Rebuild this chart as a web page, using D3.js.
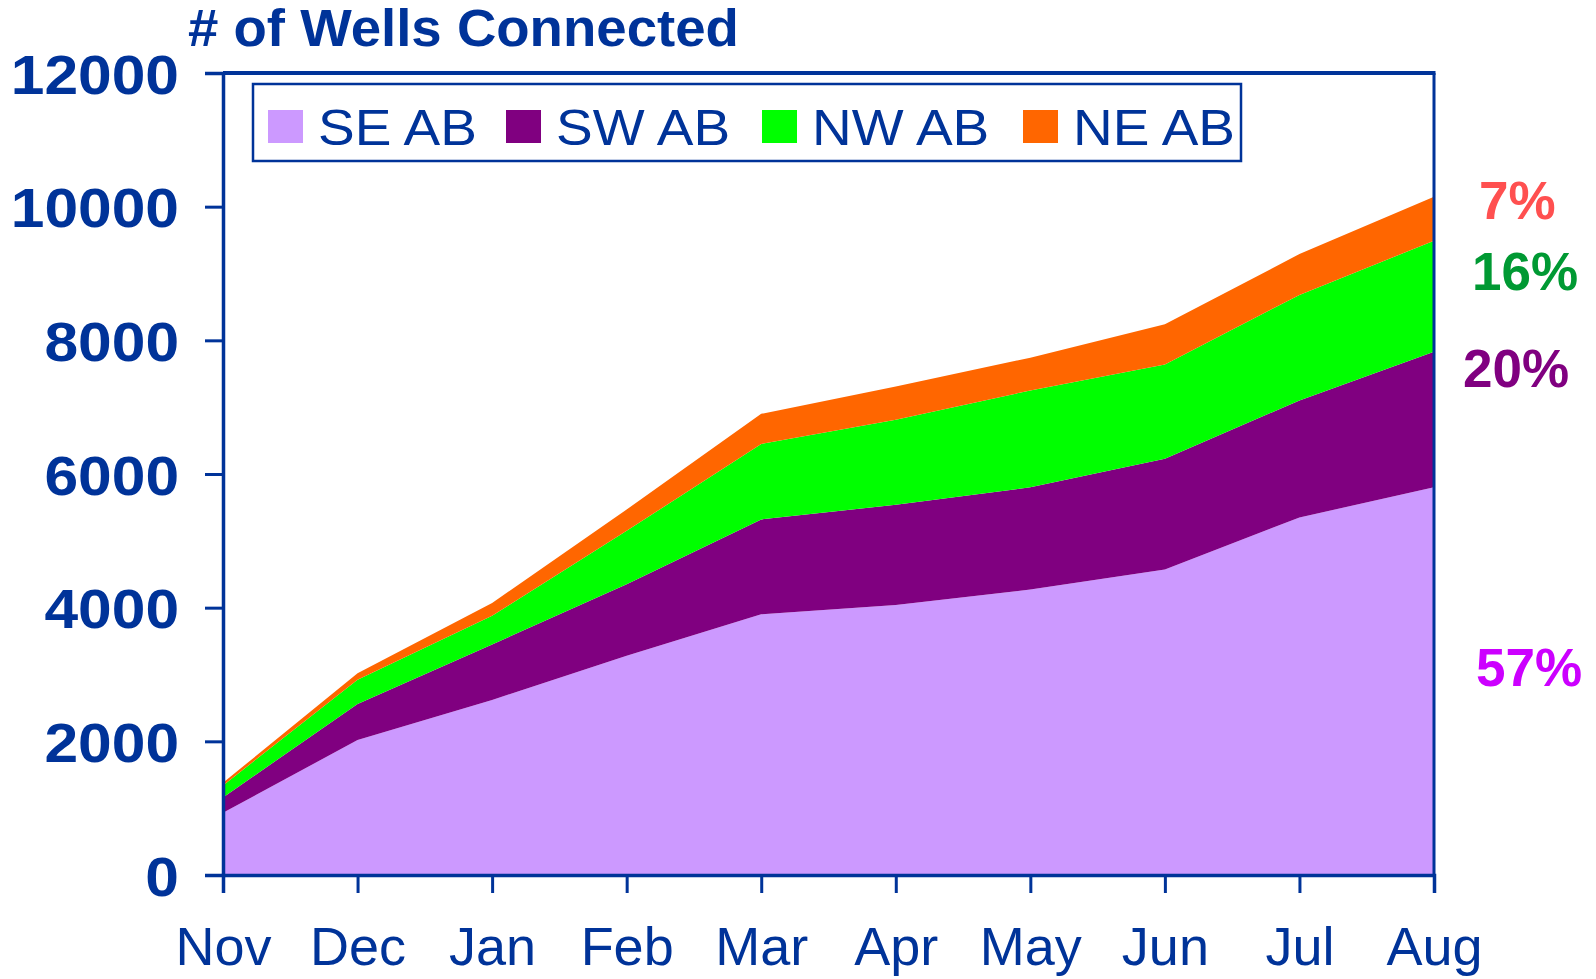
<!DOCTYPE html>
<html>
<head>
<meta charset="utf-8">
<script src="https://cdn.jsdelivr.net/npm/d3@7"></script>
<style>
  html, body { margin: 0; padding: 0; background: #fff; }
  svg { display: block; font-family: "Liberation Sans", Arial, sans-serif; }
</style>
</head>
<body>
<svg id="chart" width="1596" height="979"></svg>
<script>
// ---- data ----
const months = ["Nov", "Dec", "Jan", "Feb", "Mar", "Apr", "May", "Jun", "Jul", "Aug"];
const seAB = [930, 2020, 2620, 3280, 3900, 4040, 4270, 4570, 5350, 5800];
const swAB = [230, 540, 830, 1070, 1420, 1500, 1530, 1660, 1750, 2030];
const nwAB = [180, 360, 430, 800, 1130, 1270, 1450, 1410, 1580, 1660];
const neAB = [40, 100, 190, 320, 450, 500, 490, 600, 610, 660];
const seriesNames = ["SE AB", "SW AB", "NW AB", "NE AB"];
const yTickValues = [0, 2000, 4000, 6000, 8000, 10000, 12000];
const shareLabels = ["57%", "20%", "16%", "7%"];
const titleText = "# of Wells Connected";

// ---- style ----
const blue = "#003399";
const colors = ["#CC99FF", "#800080", "#00FF00", "#FF6600"];
const shareColors = ["#CC00FF", "#800080", "#009933", "#FF5050"];

const svg = d3.select("#chart");
const L = 223, R = 1434, T = 73, B = 875;

const x = d3.scalePoint().domain(months).range([L, R]);
const y = d3.scaleLinear().domain([0, 12000]).range([B, T]);

const rows = months.map((m, i) => ({
  month: m,
  "SE AB": seAB[i], "SW AB": swAB[i], "NW AB": nwAB[i], "NE AB": neAB[i]
}));
const stacked = d3.stack().keys(seriesNames)(rows);

const area = d3.area()
  .x(d => x(d.data.month))
  .y0(d => y(d[0]))
  .y1(d => y(d[1]));

svg.append("g").selectAll("path")
  .data(stacked)
  .join("path")
  .attr("d", area)
  .attr("fill", (d, i) => colors[i]);

// stretch helper
function stretch(sel, f) {
  sel.each(function () {
    const n = this.getComputedTextLength();
    d3.select(this).attr("textLength", n * f).attr("lengthAdjust", "spacingAndGlyphs");
  });
}

// frame (top & right)
svg.append("line").attr("x1", L).attr("x2", R + 1.5).attr("y1", T).attr("y2", T)
  .attr("stroke", blue).attr("stroke-width", 4);
svg.append("line").attr("x1", R).attr("x2", R).attr("y1", T).attr("y2", B)
  .attr("stroke", blue).attr("stroke-width", 3);

// y axis
const yAxis = d3.axisLeft(y).tickValues(yTickValues).tickSize(18).tickPadding(26)
  .tickFormat(d3.format("d"));
const gy = svg.append("g").attr("transform", `translate(${L},0)`).call(yAxis);
gy.select(".domain").attr("stroke", blue).attr("stroke-width", 3.5);
gy.selectAll(".tick line").attr("stroke", blue).attr("stroke-width", 3);
const ytexts = gy.selectAll(".tick text")
  .attr("fill", blue).attr("font-size", 56).attr("font-weight", "bold")
  .attr("font-family", "'Liberation Sans', Arial, sans-serif")
  .attr("dy", "0.36em");
stretch(ytexts, 1.08);

// x axis
const xAxis = d3.axisBottom(x).tickSize(18).tickPadding(34);
const gx = svg.append("g").attr("transform", `translate(0,${B})`).call(xAxis);
gx.select(".domain").attr("stroke", blue).attr("stroke-width", 3.5);
gx.selectAll(".tick line").attr("stroke", blue).attr("stroke-width", 3);
gx.selectAll(".tick text")
  .attr("fill", blue).attr("font-size", 54)
  .attr("font-family", "'Liberation Sans', Arial, sans-serif");

// title
const title = svg.append("text").attr("x", 188).attr("y", 46)
  .attr("fill", blue).attr("font-size", 51).attr("font-weight", "bold")
  .text(titleText);
stretch(title, 1.07);

// legend
const legend = svg.append("g");
legend.append("rect").attr("x", 253).attr("y", 84).attr("width", 988).attr("height", 77)
  .attr("fill", "#fff").attr("stroke", blue).attr("stroke-width", 2.5);
const legendX = [268, 506, 762, 1023];
seriesNames.forEach((name, i) => {
  legend.append("rect").attr("x", legendX[i]).attr("y", 110).attr("width", 35).attr("height", 33)
    .attr("fill", colors[i]);
  const t = legend.append("text").attr("x", legendX[i] + 50).attr("y", 145)
    .attr("fill", blue).attr("font-size", 50).text(name);
  stretch(t, 1.1);
});

// share labels at right, anchored to the Aug stack midpoints
const last = months.length - 1;
const nudges = [-14, -52, -25, -19];
const xOff = [42, 29, 38, 45];
stacked.forEach((s, i) => {
  const d = s[last];
  const mid = (d[0] + d[1]) / 2;
  svg.append("text")
    .attr("x", R + xOff[i])
    .attr("y", y(mid) + 19 + nudges[i])
    .attr("fill", shareColors[i]).attr("font-size", 53).attr("font-weight", "bold")
    .text(shareLabels[i]);
});
</script>
</body>
</html>
